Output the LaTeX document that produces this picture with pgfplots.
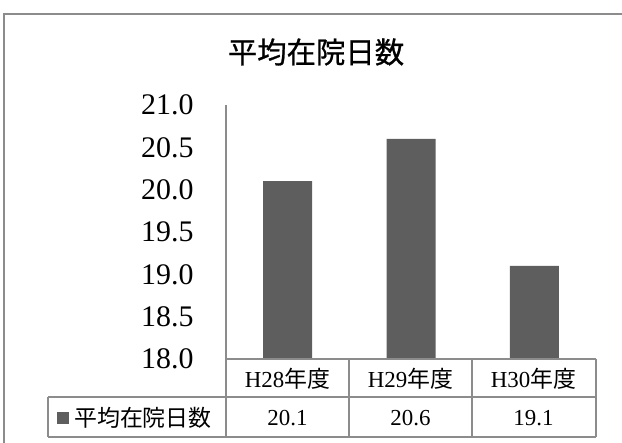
\documentclass[border=0pt]{standalone}
\usepackage{pgfplots}
\pgfplotsset{compat=1.18}
\usepackage{fontspec}
\setmainfont{Liberation Serif}
\newfontfamily\cjk{Noto Sans CJK JP}
\newfontfamily\cjktitle[FakeBold=0.8]{Noto Sans CJK JP}
\definecolor{barc}{HTML}{5E5E5E}
\definecolor{linec}{HTML}{8C8C8C}
\begin{document}
\begin{tikzpicture}[x=1bp,y=1bp]
\useasboundingbox (0,0) rectangle (622,443);
\draw[linec,line width=1.5bp] (4,-7) rectangle (626,429);
\node[font=\cjktitle\fontsize{29.5}{32}\selectfont] at (316,391) {平均在院日数};
\begin{axis}[at={(226bp,84bp)}, anchor=south west, scale only axis,
  width=370bp, height=254bp,
  xmin=-0.5, xmax=2.5, ymin=18, ymax=21,
  axis x line=none, axis y line*=left,
  axis line style={-, linec, line width=1.2bp},
  ytick={18,18.5,...,21}, major tick length=0pt,
  yticklabel style={/pgf/number format/fixed, /pgf/number format/fixed zerofill, /pgf/number format/precision=1, /pgf/number format/assume math mode=true},
  yticklabel style={font=\fontsize{30}{33}\selectfont, xshift=-29bp},
  clip=false]
\addplot[ybar, fill=barc, draw=none, bar width=49bp] coordinates {(0,20.1) (1,20.6) (2,19.1)};
\end{axis}
% data table
\begin{scope}[linec, line width=1.3bp]
\draw (226,84) -- (596,84);
\draw (48,46) -- (596,46);
\draw (48,6) -- (596,6);
\draw (48,46) -- (48,6);
\foreach \x in {226,349,472,596} \draw (\x,84) -- (\x,6);
\end{scope}
\begin{scope}[font=\fontsize{23}{26}\selectfont]
\node at (287.5,64) {H28{\cjk 年度}};
\node at (410.5,64) {H29{\cjk 年度}};
\node at (533.5,64) {H30{\cjk 年度}};
\node at (287.5,25) {20.1};
\node at (410.5,25) {20.6};
\node at (533.5,25) {19.1};
\end{scope}
\fill[barc] (57,19) rectangle (69,31);
\node[anchor=west, font=\cjk\fontsize{23}{26}\selectfont, inner sep=0pt] at (74,25) {平均在院日数};
\end{tikzpicture}
\end{document}
